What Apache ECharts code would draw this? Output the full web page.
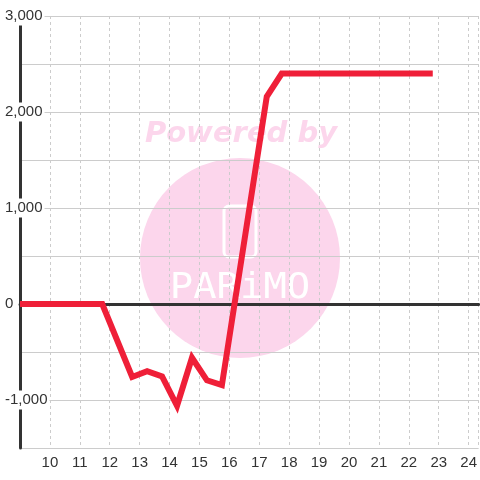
<!DOCTYPE html>
<html>
<head>
<meta charset="utf-8">
<script src="https://cdn.jsdelivr.net/npm/echarts@6/dist/echarts.min.js"></script>
<style>
  html, body { margin: 0; padding: 0; background: #fff; }
  #chart { width: 480px; height: 480px; }
</style>
</head>
<body>
<div id="chart"></div>
<script>
// points of the line
const xValues = [9, 11.75, 12.75, 13.25, 13.75, 14.25, 14.75, 15.25, 15.75, 17.25, 17.75, 22.8];
const yValues = [0, 0, -760, -700, -755, -1060, -560, -795, -845, 2160, 2400, 2400];

const xMin = 9;
const xMax = 24.3333;
const yMin = -1500;
const yMax = 3000;

const chart = echarts.init(document.getElementById('chart'));

const font = 'Liberation Sans, Arial, sans-serif';
const pink = '#fcd6ec';

const option = {
  animation: false,
  backgroundColor: '#fff',
  grid: {
    left: 20,
    right: 0,
    top: 16,
    bottom: 32,
    containLabel: false
  },
  graphic: [
    {
      type: 'circle',
      z: -10,
      shape: { cx: 240, cy: 258, r: 100 },
      style: { fill: pink }
    },
    {
      type: 'rect',
      z: -10,
      shape: { x: 224, y: 206, width: 32, height: 51, r: 5 },
      style: { fill: 'none', stroke: '#fff', lineWidth: 3 }
    },
    {
      type: 'text',
      z: -10,
      x: 240,
      y: 289,
      scaleX: 1.08,
      style: {
        text: 'PARiMO',
        fill: '#fff',
        font: '36px "DejaVu Sans Mono", monospace',
        align: 'center',
        verticalAlign: 'middle'
      }
    },
    {
      type: 'text',
      z: -10,
      x: 241,
      y: 134,
      style: {
        text: 'Powered by',
        fill: pink,
        font: 'italic bold 29px "DejaVu Sans", sans-serif',
        align: 'center',
        verticalAlign: 'middle'
      }
    }
  ],
  xAxis: [
    {
      type: 'value',
      min: xMin,
      max: xMax,
      interval: 1,
      axisLine: { show: false, onZero: false },
      axisTick: { show: false },
      axisLabel: {
        color: '#333',
        fontSize: 15,
        fontFamily: font,
        margin: 7,
        showMinLabel: false,
        showMaxLabel: false,
        formatter: v => (Number.isInteger(v) && v > xMin ? String(v) : '')
      },
      splitLine: {
        show: true,
        lineStyle: { color: '#ccc', type: [3, 3], width: 1 }
      }
    },
    {
      // draws the heavy zero line
      type: 'value',
      min: xMin,
      max: xMax,
      position: 'bottom',
      axisLine: { show: true, onZero: true, lineStyle: { color: '#333', width: 3 } },
      axisTick: { show: false },
      axisLabel: { show: false },
      splitLine: { show: false }
    }
  ],
  yAxis: {
    type: 'value',
    min: yMin,
    max: yMax,
    interval: 500,
    axisLine: { show: true, lineStyle: { color: '#333', width: 3 } },
    axisTick: { show: false },
    axisLabel: {
      color: '#333',
      fontSize: 15,
      fontFamily: font,
      align: 'left',
      margin: 15,
      backgroundColor: '#fff',
      padding: [4, 2, 0, 0],
      formatter: v => (v % 1000 === 0 ? echarts.format.addCommas(v) : '')
    },
    splitLine: {
      show: true,
      lineStyle: { color: '#ccc', width: 1 }
    }
  },
  series: [
    {
      type: 'line',
      xAxisIndex: 0,
      z: 5,
      data: xValues.map((x, i) => [x, yValues[i]]),
      symbol: 'none',
      lineStyle: { color: '#ef1f38', width: 6, cap: 'butt', join: 'miter' }
    }
  ]
};

chart.setOption(option);
</script>
</body>
</html>
